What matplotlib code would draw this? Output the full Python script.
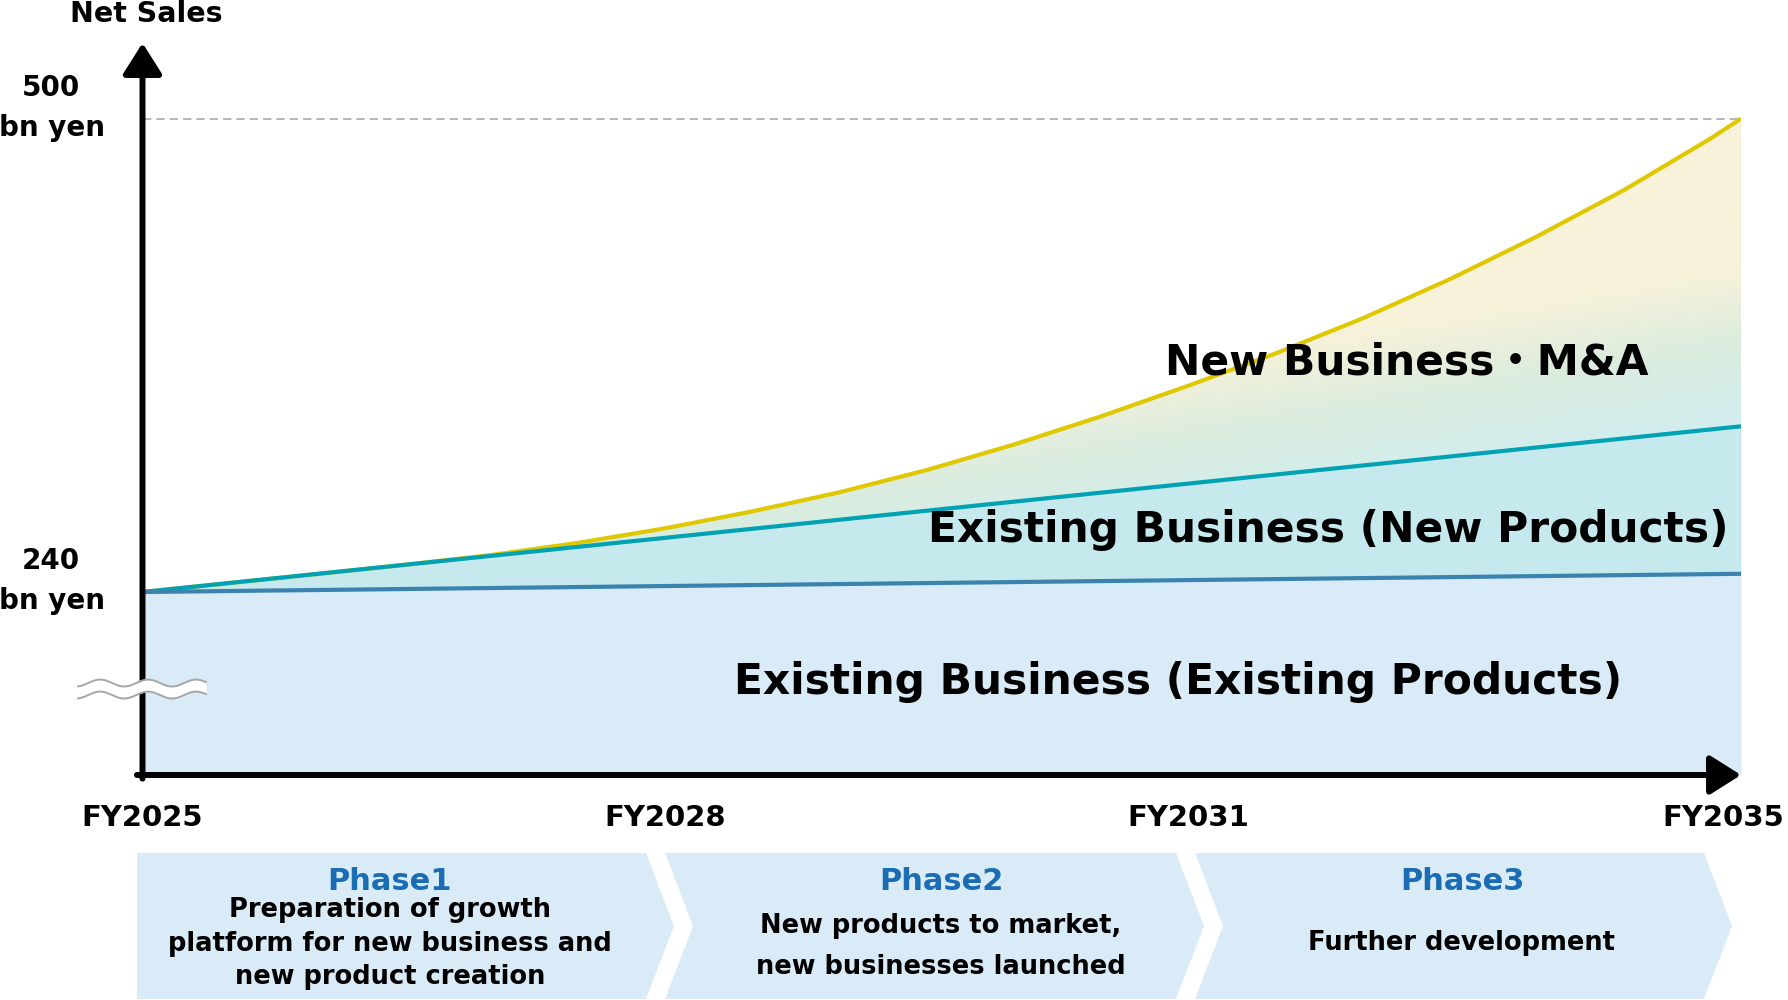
import numpy as np
import matplotlib.pyplot as plt
import matplotlib.transforms as mtransforms
from matplotlib.patches import Polygon
from matplotlib.colors import LinearSegmentedColormap

plt.rcParams['font.family'] = ['DejaVu Sans', 'Noto Sans CJK JP']

# --- data (bn yen), x = years after FY2025 ---
x_pts = [0, 0.5, 1, 1.5, 2, 2.5, 3, 3.5, 4, 4.5, 5, 5.5, 6, 6.5, 7, 7.5, 8, 8.5, 9, 9.17]
total_sales = [240, 244.9, 249.9, 254.9, 260.3, 267.0, 275.0, 284.3, 294.8, 307.0, 321.0,
               336.5, 353.3, 371.0, 390.3, 411.8, 435.3, 460.8, 489.3, 500]
x_line = [0, 9.17]
existing_new = [240, 331]      # existing business incl. new products
existing_base = [240, 250]     # existing business, existing products
target = 500
y_ticks = [240, 500]
tick_x = [0, 3, 6, 9.07]
tick_labels = ['FY2025', 'FY2028', 'FY2031', 'FY2035']
phase_titles = ['Phase1', 'Phase2', 'Phase3']
phase_texts = [['Preparation of growth', 'platform for new business and', 'new product creation'],
               ['New products to market,', 'new businesses launched'],
               ['Further development']]

ymin, ymax = 139.5, 541.5
xmax = x_line[-1]

fig = plt.figure(figsize=(17.88, 10), dpi=100)

# overlay in pixel coords for the phase chevrons
ov = fig.add_axes([0, 0, 1, 1], zorder=0)
ov.set_xlim(0, 1788)
ov.set_ylim(1000, 0)
ov.axis('off')

ax = fig.add_axes([142.5 / 1788, 225 / 1000, 1598.5 / 1788, 732 / 1000], zorder=1)
ax.set_xlim(0, xmax)
ax.set_ylim(ymin, ymax)
ax.axis('off')

# fills
ax.fill_between(x_line, ymin, existing_base, color='#DAEBF8', lw=0, zorder=1)
ax.fill_between(x_line, existing_base, existing_new, color='#C6E9EE', lw=0, zorder=1)

# gradient band between new products line and total
poly = list(zip(x_pts, total_sales)) + [(x_line[1], existing_new[1]), (x_line[0], existing_new[0])]
clip = Polygon(poly, closed=True, transform=ax.transData, facecolor='none', edgecolor='none')
ax.add_patch(clip)
gx, gy = np.meshgrid(np.linspace(0, xmax, 300), np.linspace(240, 500, 300))
t = np.clip((gy - 330) / 90 + (xmax - gx) * 0.18, 0, 1)
cmap = LinearSegmentedColormap.from_list('nb', ['#D2EEF0', '#DAECDF', '#F9F2DA'])
im = ax.imshow(t, cmap=cmap, vmin=0, vmax=1, extent=[0, xmax, 240, 500], origin='lower',
               aspect='auto', zorder=1.5, interpolation='bilinear')
im.set_clip_path(clip)

# lines
ax.plot(x_pts, total_sales, color='#DFC800', lw=3, zorder=3, solid_capstyle='butt',
        solid_joinstyle='round')
ax.plot(x_line, existing_new, color='#00A2B4', lw=3, zorder=3.2, solid_capstyle='butt')
ax.plot(x_line, existing_base, color='#3983AE', lw=3, zorder=3.3, solid_capstyle='butt')
ax.axhline(target, color='#A8A8A8', lw=1.2, ls=(0, (5, 3)), zorder=2)

# axes arrows
arrow = dict(arrowstyle='-|>,head_length=0.95,head_width=0.6', mutation_scale=20, lw=4.3,
             color='black', shrinkA=0, shrinkB=0)
ax.annotate('', xy=(0, 1), xytext=(0, -0.005), xycoords='axes fraction', arrowprops=arrow,
            annotation_clip=False, zorder=5)
ax.annotate('', xy=(1, 0), xytext=(-0.0035, 0), xycoords='axes fraction', arrowprops=arrow,
            annotation_clip=False, zorder=5)

# axis break waves
bt = mtransforms.blended_transform_factory(ax.transAxes, ax.transData)
wx = np.linspace(-0.0403, 0.0397, 200)
wave = 1.9 * np.sin(2 * np.pi * (wx + 0.004) / 0.030)
ax.fill_between(wx, 183.4 + wave, 190.0 + wave, color='white', lw=0, transform=bt, zorder=10,
                clip_on=False)
ax.plot(wx, 190.0 + wave, color='#A6A6A6', lw=1.4, transform=bt, zorder=11, clip_on=False)
ax.plot(wx, 183.4 + wave, color='#A6A6A6', lw=1.4, transform=bt, zorder=11, clip_on=False)

# y labels
for v in y_ticks:
    ax.annotate(str(v), xy=(0, v), xycoords=bt, xytext=(-66, 22), textcoords='offset points',
                ha='center', va='center', fontsize=20, fontweight='bold', annotation_clip=False)
    ax.annotate('bn yen', xy=(0, v), xycoords=bt, xytext=(-65, -6.5), textcoords='offset points',
                ha='center', va='center', fontsize=20, fontweight='bold', annotation_clip=False)
ax.annotate('Net Sales', xy=(0, 1), xycoords='axes fraction', xytext=(3, 21), textcoords='offset points',
            ha='center', va='center', fontsize=20.5, fontweight='bold', annotation_clip=False)

# x labels
for xp, lab in zip(tick_x, tick_labels):
    ax.annotate(lab, xy=(xp, ymin), xycoords='data', xytext=(0, -31), textcoords='offset points',
                ha='center', va='center', fontsize=21, fontweight='bold', annotation_clip=False)

# segment labels
ax.text(7.25, 365.8, 'New Business・M&A', ha='center', va='center', fontsize=30.5,
        fontweight='bold', zorder=6)
ax.text(6.80, 274, 'Existing Business (New Products)', ha='center', va='center', fontsize=30.5,
        fontweight='bold', zorder=6)
ax.text(5.94, 190.6, 'Existing Business (Existing Products)', ha='center', va='center',
        fontsize=30.5, fontweight='bold', zorder=6)

# phase chevrons
lefts = [137, 665, 1195]
rights = [646, 1176, 1704]
centers = [390, 941, 1462]
top, bot, mid, depth = 853, 999, 926, 28
body_y = [[910, 944, 977], [926, 967], [943]]
for i in range(3):
    l, r = lefts[i], rights[i]
    pts = [(l, top), (r, top), (r + depth, mid), (r, bot), (l, bot)]
    if i > 0:
        pts.append((l + depth, mid))
    ov.add_patch(Polygon(pts, closed=True, facecolor='#DAEBF8', edgecolor='none'))
    ov.text(centers[i], 881, phase_titles[i], ha='center', va='center', fontsize=22,
            fontweight='bold', color='#1A6DB4')
    for line, yy in zip(phase_texts[i], body_y[i]):
        ov.text(centers[i], yy, line, ha='center', va='center', fontsize=18.5, fontweight='bold',
                color='black')

fig.savefig('out.png', dpi=100)
